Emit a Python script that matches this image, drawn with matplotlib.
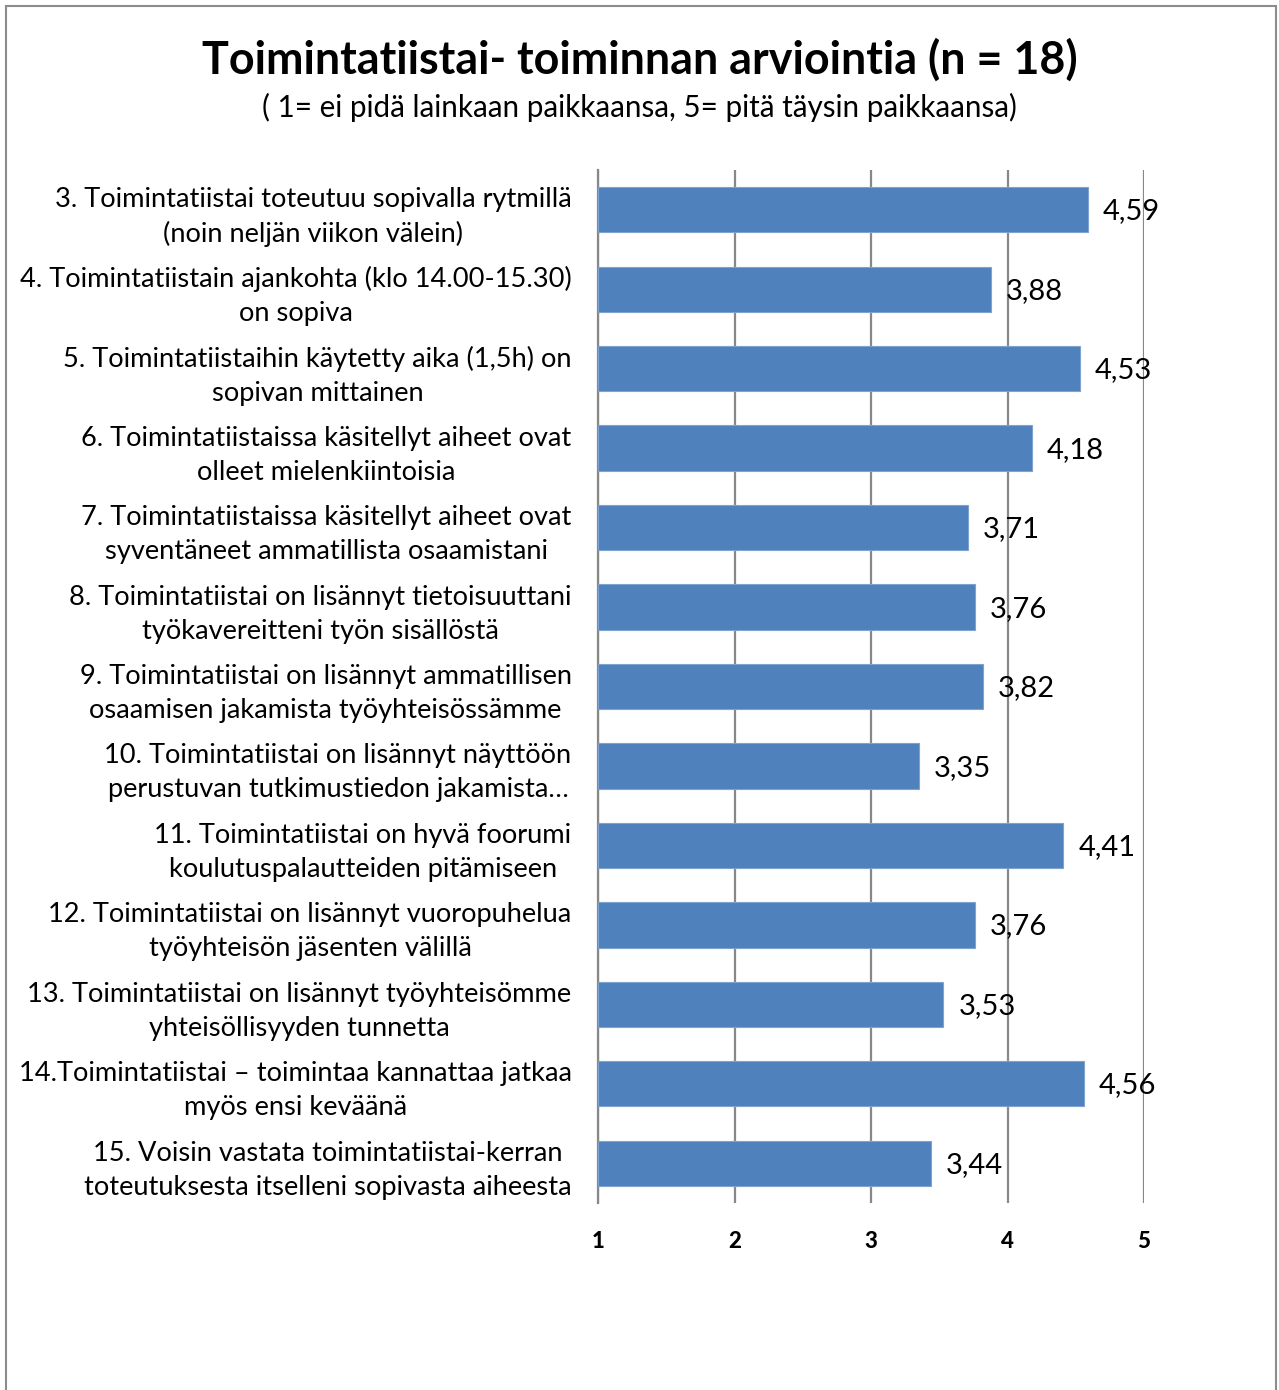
import numpy as np
import matplotlib.pyplot as plt
from matplotlib.patches import Rectangle

plt.rcParams['font.family'] = ['Lato', 'DejaVu Sans']

statements = [
    "3. Toimintatiistai toteutuu sopivalla rytmillä\n(noin neljän viikon välein)",
    "4. Toimintatiistain ajankohta (klo 14.00-15.30)\non sopiva",
    "5. Toimintatiistaihin käytetty aika (1,5h) on\nsopivan mittainen",
    "6. Toimintatiistaissa käsitellyt aiheet ovat\nolleet mielenkiintoisia",
    "7. Toimintatiistaissa käsitellyt aiheet ovat\nsyventäneet ammatillista osaamistani",
    "8. Toimintatiistai on lisännyt tietoisuuttani\ntyökavereitteni työn sisällöstä",
    "9. Toimintatiistai on lisännyt ammatillisen\nosaamisen jakamista työyhteisössämme",
    "10. Toimintatiistai on lisännyt näyttöön\nperustuvan tutkimustiedon jakamista…",
    "11. Toimintatiistai on hyvä foorumi\nkoulutuspalautteiden pitämiseen",
    "12. Toimintatiistai on lisännyt vuoropuhelua\ntyöyhteisön jäsenten välillä",
    "13. Toimintatiistai on lisännyt työyhteisömme\nyhteisöllisyyden tunnetta",
    "14.Toimintatiistai – toimintaa kannattaa jatkaa\nmyös ensi keväänä",
    "15. Voisin vastata toimintatiistai-kerran\ntoteutuksesta itselleni sopivasta aiheesta",
]
means = [4.59, 3.88, 4.53, 4.18, 3.71, 3.76, 3.82, 3.35, 4.41, 3.76, 3.53, 4.56, 3.44]
x_ticks = [1, 2, 3, 4, 5]

fig = plt.figure(figsize=(12.79, 13.9), dpi=100)

# outer chart frame
fig.patches.append(Rectangle((6 / 1279, -0.01), 1270 / 1279, 1.01 - 6 / 1390,
                             transform=fig.transFigure, fill=False,
                             edgecolor='#8c8c8c', linewidth=1.5))

ax = fig.add_axes([598 / 1279, 1 - 1203 / 1390, 546 / 1279, 1033 / 1390])

y = np.arange(len(means))
ax.barh(y, np.array(means) - 1, left=1, height=0.57, color='#4f81bd',
        edgecolor='#7ea3d1', linewidth=0.8, zorder=3)

for yi, v in zip(y, means):
    ax.text(v + 0.11, yi + 0.02, f"{v:.2f}".replace('.', ','), va='center', ha='left',
            fontsize=21, zorder=4)

ax.set_xlim(1, 5)
ax.set_ylim(len(means) - 0.5, -0.5)
ax.set_xticks(x_ticks)
ax.set_xticklabels([str(t) for t in x_ticks], fontweight='black', fontsize=16)
ax.tick_params(axis='x', length=0, pad=20)
ax.tick_params(axis='y', length=0, pad=19)
ax.set_yticks(y)
ax.set_yticklabels(statements, fontsize=19.6, multialignment='center',
                   linespacing=1.45)

ax.grid(axis='x', color='#888888', linewidth=1.6, zorder=0)
for side in ['top', 'right', 'bottom']:
    ax.spines[side].set_visible(False)
ax.spines['left'].set_color('#888888')
ax.spines['left'].set_linewidth(1.6)

fig.text(0.5, 1 - 60 / 1390, "Toimintatiistai- toiminnan arviointia (n = 18)",
         ha='center', va='center', fontsize=32.3, fontweight='bold')
fig.text(0.5, 1 - 107 / 1390, "( 1= ei pidä lainkaan paikkaansa, 5= pitä täysin paikkaansa)",
         ha='center', va='center', fontsize=21.3)

fig.savefig('out.png', dpi=100, facecolor='white')
